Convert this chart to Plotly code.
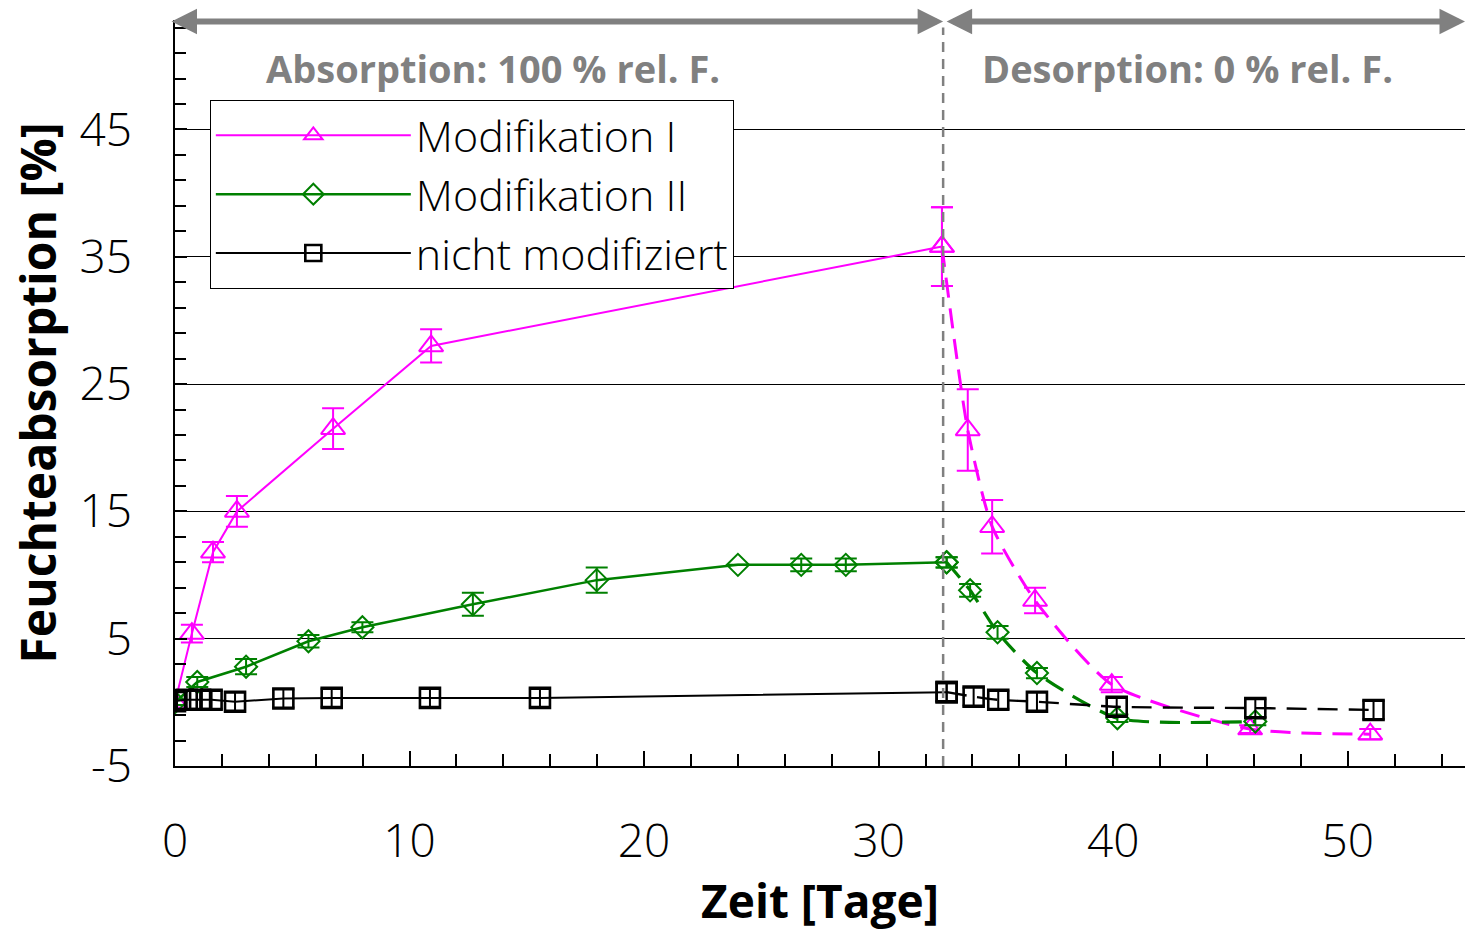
import plotly.graph_objects as go

# ---------------- data ----------------
# Modifikation I (absorption / desorption)
x_abs_I = [0.0, 0.72, 1.62, 2.64, 6.74, 10.92, 32.7]
y_abs_I = [0.0, 5.4, 11.8, 15.0, 21.5, 28.0, 35.8]
e_abs_I = [0.2, 0.7, 0.8, 1.2, 1.6, 1.3, 3.1]
x_des_I = [32.7, 33.8, 34.84, 36.67, 39.94, 45.84, 50.96]
y_des_I = [35.8, 21.4, 13.8, 8.0, 1.4, -2.1, -2.5]
e_des_I = [3.1, 3.2, 2.1, 1.0, 0.6, 0.3, 0.4]

# Modifikation II
x_abs_II = [0.0, 0.95, 3.03, 5.69, 7.99, 12.7, 17.98, 24.0, 26.7, 28.6, 32.9]
y_abs_II = [0.0, 1.6, 2.8, 4.8, 5.9, 7.7, 9.6, 10.8, 10.8, 10.8, 11.0]
e_abs_II = [0.2, 0.4, 0.6, 0.5, 0.4, 0.9, 1.0, 0.0, 0.5, 0.5, 0.4]
x_des_II = [32.9, 33.9, 35.07, 36.75, 40.18, 46.06]
y_des_II = [11.0, 8.8, 5.5, 2.3, -1.25, -1.5]
e_des_II = [0.4, 0.5, 0.5, 0.4, 0.3, 0.3]

# nicht modifiziert
x_abs_N = [0.0, 0.5, 1.07, 1.56, 2.56, 4.62, 6.68, 10.87, 15.56, 32.9]
y_abs_N = [0.1, 0.2, 0.2, 0.2, 0.05, 0.3, 0.35, 0.35, 0.35, 0.8]
e_abs_N = [0.7, 0.7, 0.7, 0.7, 0.7, 0.7, 0.7, 0.7, 0.7, 0.7]
x_des_N = [32.9, 34.05, 35.1, 36.75, 40.15, 46.06, 51.1]
y_des_N = [0.8, 0.45, 0.2, 0.05, -0.35, -0.45, -0.6]
e_des_N = [0.7, 0.7, 0.7, 0.7, 0.7, 0.7, 0.7]

series_names = ["Modifikation I", "Modifikation II", "nicht modifiziert"]
x_ticks = [0, 10, 20, 30, 40, 50]
y_ticks = [-5, 5, 15, 25, 35, 45]
x_range = [0, 55]
y_range = [-5, 53.6]
x_switch = 32.75  # change from absorption to desorption (days)
phase_labels = ["Absorption: 100 % rel. F.", "Desorption: 0 % rel. F."]

# ---------------- styling ----------------
MAG = "#FF00FF"
GRN = "#008000"
BLK = "#000000"
GRAY = "#808080"
FONT = "Open Sans"

fig = go.Figure()

specs = [
    (series_names[0], MAG, "triangle-up-open", 21, 2.0, x_abs_I, y_abs_I, e_abs_I, x_des_I, y_des_I, e_des_I, 2.0, 3.0),
    (series_names[1], GRN, "diamond-open", 17, 2.0, x_abs_II, y_abs_II, e_abs_II, x_des_II, y_des_II, e_des_II, 2.5, 3.2),
    (series_names[2], BLK, "square-open", 20, 2.6, x_abs_N, y_abs_N, e_abs_N, x_des_N, y_des_N, e_des_N, 2.0, 2.4),
]

for i, (name, col, sym, sz, mlw, xa, ya, ea, xd, yd, ed, lw, dw) in enumerate(specs):
    fig.add_trace(go.Scatter(
        x=xa, y=ya, name=name, legendgroup=name, legendrank=i + 1,
        mode="lines+markers",
        line=dict(color=col, width=lw),
        marker=dict(symbol=sym, size=sz, color=col, line=dict(color=col, width=mlw)),
        error_y=dict(type="data", array=ea, visible=True, color=col, thickness=2, width=11),
    ))
    fig.add_trace(go.Scatter(
        x=xd, y=yd, name=name, legendgroup=name, showlegend=False,
        mode="lines+markers",
        line=dict(color=col, width=dw, dash="20px,11px", shape="spline", smoothing=0.6),
        marker=dict(symbol=sym, size=sz, color=col, line=dict(color=col, width=mlw)),
        error_y=dict(type="data", array=ed, visible=True, color=col, thickness=2, width=11),
    ))

# vertical separator between phases
fig.add_shape(type="line", xref="x", yref="paper", x0=x_switch, x1=x_switch,
              y0=0, y1=0.99, line=dict(color=GRAY, width=2.5, dash="10px,7px"))

# ---------------- layout geometry ----------------
W, H = 1467, 931
ML, MR, MT, MB = 175, 2, 20, 165
pw = W - ML - MR
px_per_day = pw / (x_range[1] - x_range[0])
sw_px = (x_switch - x_range[0]) * px_per_day  # switch position inside plot (px)

arrow_y = 1 - 1.5 / (H - MT - MB)
# absorption arrow (both heads)
fig.add_annotation(x=x_switch, xref="x", y=arrow_y, yref="paper",
                   ax=-(sw_px + 5), ay=0, axref="pixel", ayref="pixel",
                   text="", showarrow=True, arrowside="end+start",
                   arrowhead=2, startarrowhead=2, arrowsize=0.85, startarrowsize=0.85,
                   arrowwidth=6, arrowcolor=GRAY, standoff=0, startstandoff=0)
# desorption arrow
fig.add_annotation(x=x_range[1], xref="x", y=arrow_y, yref="paper",
                   ax=-(pw - sw_px - 2), ay=0, axref="pixel", ayref="pixel",
                   text="", showarrow=True, arrowside="end+start",
                   arrowhead=2, startarrowhead=2, arrowsize=0.85, startarrowsize=0.85,
                   arrowwidth=6, arrowcolor=GRAY, standoff=0, startstandoff=0)

fig.add_annotation(x=0.2465, xref="paper", y=0.9357, yref="paper", text=phase_labels[0],
                   xanchor="center", yanchor="middle", showarrow=False,
                   font=dict(family=FONT, size=38, color=GRAY, weight="bold"))
fig.add_annotation(x=0.7845, xref="paper", y=0.9357, yref="paper", text=phase_labels[1],
                   xanchor="center", yanchor="middle", showarrow=False,
                   font=dict(family=FONT, size=38, color=GRAY, weight="bold"))

fig.update_layout(
    width=W, height=H,
    margin=dict(l=ML, r=MR, t=MT, b=MB, pad=0),
    paper_bgcolor="white", plot_bgcolor="white",
    font=dict(family=FONT, color="black"),
    showlegend=True,
    legend=dict(
        x=0.027, y=0.893, xanchor="left", yanchor="top",
        bgcolor="white", bordercolor="black", borderwidth=1,
        font=dict(family=FONT, size=43, color="black", weight=300),
        itemwidth=195, tracegroupgap=0,
        entrywidth=395, entrywidthmode="pixels",
    ),
    xaxis=dict(
        range=x_range, showline=True, linecolor="black", linewidth=1.5,
        ticks="inside", ticklen=15, tickwidth=1.5, tickcolor="black",
        tickvals=x_ticks, ticktext=[str(v) for v in x_ticks],
        minor=dict(ticks="inside", dtick=2, tick0=0, ticklen=12, tickwidth=1.5, tickcolor="black", showgrid=False),
        showgrid=False, zeroline=False, mirror=False,
        tickfont=dict(family=FONT, size=46, color="black", weight=300),
        ticklabelstandoff=34,
        title=dict(text="Zeit [Tage]", font=dict(family=FONT, size=46, color="black", weight="bold"), standoff=16),
    ),
    yaxis=dict(
        range=y_range, showline=True, linecolor="black", linewidth=1.5,
        ticks="inside", ticklen=12, tickwidth=1.5, tickcolor="black",
        tickvals=y_ticks, ticktext=[str(v) for v in y_ticks],
        minor=dict(ticks="inside", dtick=2, tick0=-5, ticklen=11, tickwidth=1.5, tickcolor="black", showgrid=False),
        showgrid=True, gridcolor="black", gridwidth=1,
        zeroline=False, mirror=False,
        tickfont=dict(family=FONT, size=46, color="black", weight=300),
        ticklabelstandoff=32,
        title=dict(text="Feuchteabsorption [%]", font=dict(family=FONT, size=48, color="black", weight="bold"), standoff=8),
    ),
)

fig.write_html("out.html")
